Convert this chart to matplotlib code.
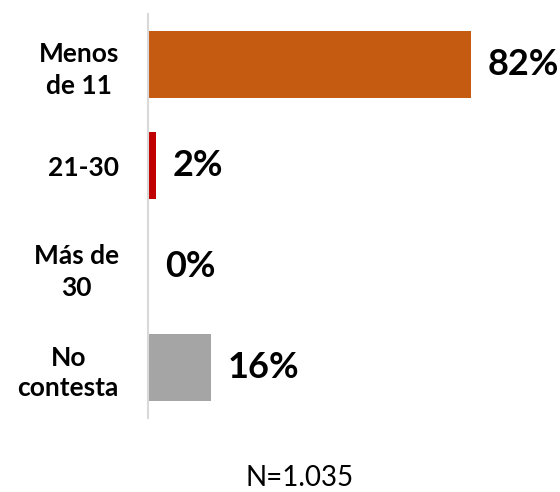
import matplotlib
matplotlib.use("Agg")
import matplotlib.pyplot as plt

categorias = ["Menos\nde 11", "21-30", "Más de\n30", "No\ncontesta"]
valores = [82, 2, 0, 16]
colores = ["#C55A11", "#C00000", "#C00000", "#A5A5A5"]
nota = "N=1.035"

plt.rcParams['font.family'] = ['Lato', 'DejaVu Sans']

fig = plt.figure(figsize=(5.6, 4.92), dpi=100)
ax = fig.add_axes([148 / 560, 1 - 418 / 492, 394 / 560, 404 / 492])

y = list(range(len(categorias)))
ax.barh(y, valores, height=0.66, color=colores)

for yi, v in zip(y, valores):
    ax.annotate(f"{v}%", (v, yi), xytext=(12, 0), textcoords="offset points",
                ha="left", va="center", fontsize=26, fontweight="bold")

ax.set_xlim(0, 100)
ax.set_ylim(3.5, -0.5)
ax.set_yticks(y)
ax.set_yticklabels(categorias, fontsize=19, fontweight="bold",
                   multialignment="center", linespacing=1.35)
ax.tick_params(axis="y", length=0, pad=21)
ax.set_xticks([])

for s in ["top", "right", "bottom"]:
    ax.spines[s].set_visible(False)
ax.spines["left"].set_color("#D9D9D9")
ax.spines["left"].set_linewidth(1.5)

fig.text(300 / 560, 1 - 478 / 492, nota, ha="center", va="center", fontsize=20)

fig.savefig("out.png", dpi=100)
